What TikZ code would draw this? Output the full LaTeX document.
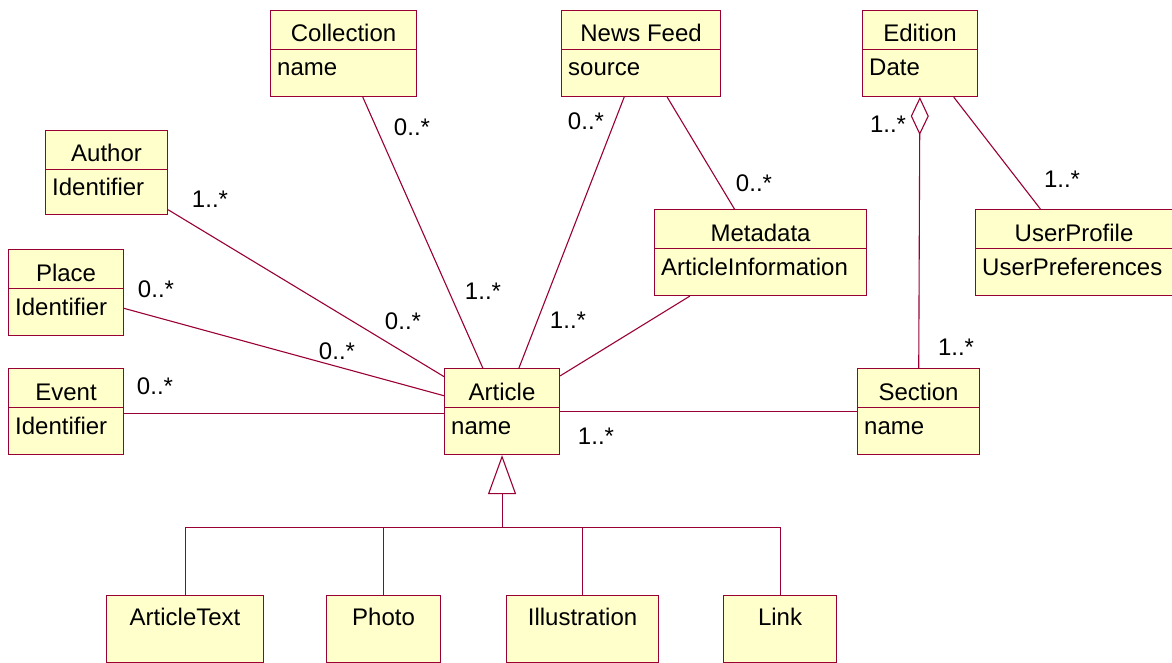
\documentclass[tikz,border=0pt]{standalone}
\usepackage{fontspec}
\setmainfont{Liberation Sans}
\usetikzlibrary{positioning,arrows.meta}
\definecolor{umlline}{RGB}{153,0,51}
\definecolor{umlfill}{RGB}{255,255,204}

\begin{document}
\begin{tikzpicture}[
  x=1pt, y=-1pt,
  font=\fontsize{24}{28}\selectfont,
  cls/.style={draw=umlline, fill=umlfill, line width=1.1pt, anchor=north west,
              minimum height=86pt, inner sep=0pt,
              path picture={\draw[umlline, line width=1.1pt]
                ([yshift=-39pt]path picture bounding box.north west) --
                ([yshift=-39pt]path picture bounding box.north east);}},
  leaf/.style={draw=umlline, fill=umlfill, line width=1.1pt, anchor=north west,
               minimum height=67pt, inner sep=0pt},
  ttl/.style={anchor=base, inner sep=0pt},
  att/.style={anchor=base west, inner sep=0pt},
  mult/.style={inner sep=0pt},
  assoc/.style={draw=umlline, line width=1.1pt},
  aggr/.style={assoc, {Diamond[open, length=38pt, width=18pt]}-},
  gen/.style={assoc, -{Triangle[open, length=39pt, width=28pt]}},
]
\useasboundingbox (0,0) rectangle (1172,663);

% classes
\node[cls, minimum width=146pt] (coll) at (270,10) {};
\node[ttl] (collT) at ([yshift=-32pt]coll.north) {Collection};
\node[att] (collA) at ([xshift=7pt,yshift=-66pt]coll.north west) {name};

\node[cls, minimum width=159pt] (feed) at (561,10) {};
\node[ttl] (feedT) at ([yshift=-32pt]feed.north) {News Feed};
\node[att] (feedA) at ([xshift=7pt,yshift=-66pt]feed.north west) {source};

\node[cls, minimum width=115pt] (edit) at (862,10) {};
\node[ttl] (editT) at ([yshift=-32pt]edit.north) {Edition};
\node[att] (editA) at ([xshift=7pt,yshift=-66pt]edit.north west) {Date};

\node[cls, minimum width=122pt, minimum height=84pt] (auth) at (45,130) {};
\node[ttl] (authT) at ([yshift=-32pt]auth.north) {Author};
\node[att] (authA) at ([xshift=7pt,yshift=-66pt]auth.north west) {Identifier};

\node[cls, minimum width=115pt] (place) at (8,249) {};
\node[ttl] (placeT) at ([yshift=-32pt]place.north) {Place};
\node[att] (placeA) at ([xshift=7pt,yshift=-66pt]place.north west) {Identifier};

\node[cls, minimum width=115pt] (event) at (8,368) {};
\node[ttl] (eventT) at ([yshift=-32pt]event.north) {Event};
\node[att] (eventA) at ([xshift=7pt,yshift=-66pt]event.north west) {Identifier};

\node[cls, minimum width=212pt] (meta) at (654,209) {};
\node[ttl] (metaT) at ([yshift=-32pt]meta.north) {Metadata};
\node[att] (metaA) at ([xshift=7pt,yshift=-66pt]meta.north west) {ArticleInformation};

\node[cls, minimum width=197pt] (prof) at (975,209) {};
\node[ttl] (profT) at ([yshift=-32pt]prof.north) {UserProfile};
\node[att] (profA) at ([xshift=7pt,yshift=-66pt]prof.north west) {UserPreferences};

\node[cls, minimum width=115pt] (art) at (444,368) {};
\node[ttl] (artT) at ([yshift=-32pt]art.north) {Article};
\node[att] (artA) at ([xshift=7pt,yshift=-66pt]art.north west) {name};

\node[cls, minimum width=122pt] (sect) at (857,368) {};
\node[ttl] (sectT) at ([yshift=-32pt]sect.north) {Section};
\node[att] (sectA) at ([xshift=7pt,yshift=-66pt]sect.north west) {name};

% subclasses
\node[leaf, minimum width=157pt] (atext) at (106,595) {};
\node[ttl] (atextT) at ([yshift=-30pt]atext.north) {ArticleText};
\node[leaf, minimum width=114pt] (photo) at (326,595) {};
\node[ttl] (photoT) at ([yshift=-30pt]photo.north) {Photo};
\node[leaf, minimum width=152pt] (illus) at (506,595) {};
\node[ttl] (illusT) at ([yshift=-30pt]illus.north) {Illustration};
\node[leaf, minimum width=113pt] (link) at (723,595) {};
\node[ttl] (linkT) at ([yshift=-30pt]link.north) {Link};

% associations
\draw[assoc] (coll) -- (art);
\draw[assoc] (feed) -- (art);
\draw[assoc] (feed) -- (meta);
\draw[assoc] (meta) -- (art);
\draw[assoc] (auth) -- (art);
\draw[assoc] (place) -- (art);
\draw[assoc] (event.east |- 0,413.5) -- (art.west |- 0,413.5);
\draw[assoc] (art.east |- 0,411.5) -- (sect.west |- 0,411.5);
\draw[assoc] (edit) -- (prof);
\draw[aggr] (edit) -- (sect);

% generalisation
\coordinate (fork) at (art.south |- 0,527.5);
\draw[gen] (fork) -- (art.south);
\draw[assoc] (atext.north) |- (fork) -| (link.north);
\draw[assoc] (photo.north) -- (photo.north |- fork);
\draw[assoc] (illus.north) -- (illus.north |- fork);

% multiplicities
\node[mult] (mCollA) at (412,127) {0..*};
\node[mult] (mCollB) at (483,291) {1..*};
\node[mult] (mFeedA) at (586,121) {0..*};
\node[mult] (mFeedB) at (568,320) {1..*};
\node[mult] (mMeta)  at (754,183) {0..*};
\node[mult] (mAuthA) at (210,199) {1..*};
\node[mult] (mAuthB) at (403,321) {0..*};
\node[mult] (mPlcA)  at (156,289) {0..*};
\node[mult] (mPlcB)  at (337,351) {0..*};
\node[mult] (mEvent) at (155,386) {0..*};
\node[mult] (mSectA) at (596,436) {1..*};
\node[mult] (mSectB) at (956,347) {1..*};
\node[mult] (mEdit)  at (888,124) {1..*};
\node[mult] (mProf)  at (1062,179) {1..*};
\end{tikzpicture}
\end{document}
